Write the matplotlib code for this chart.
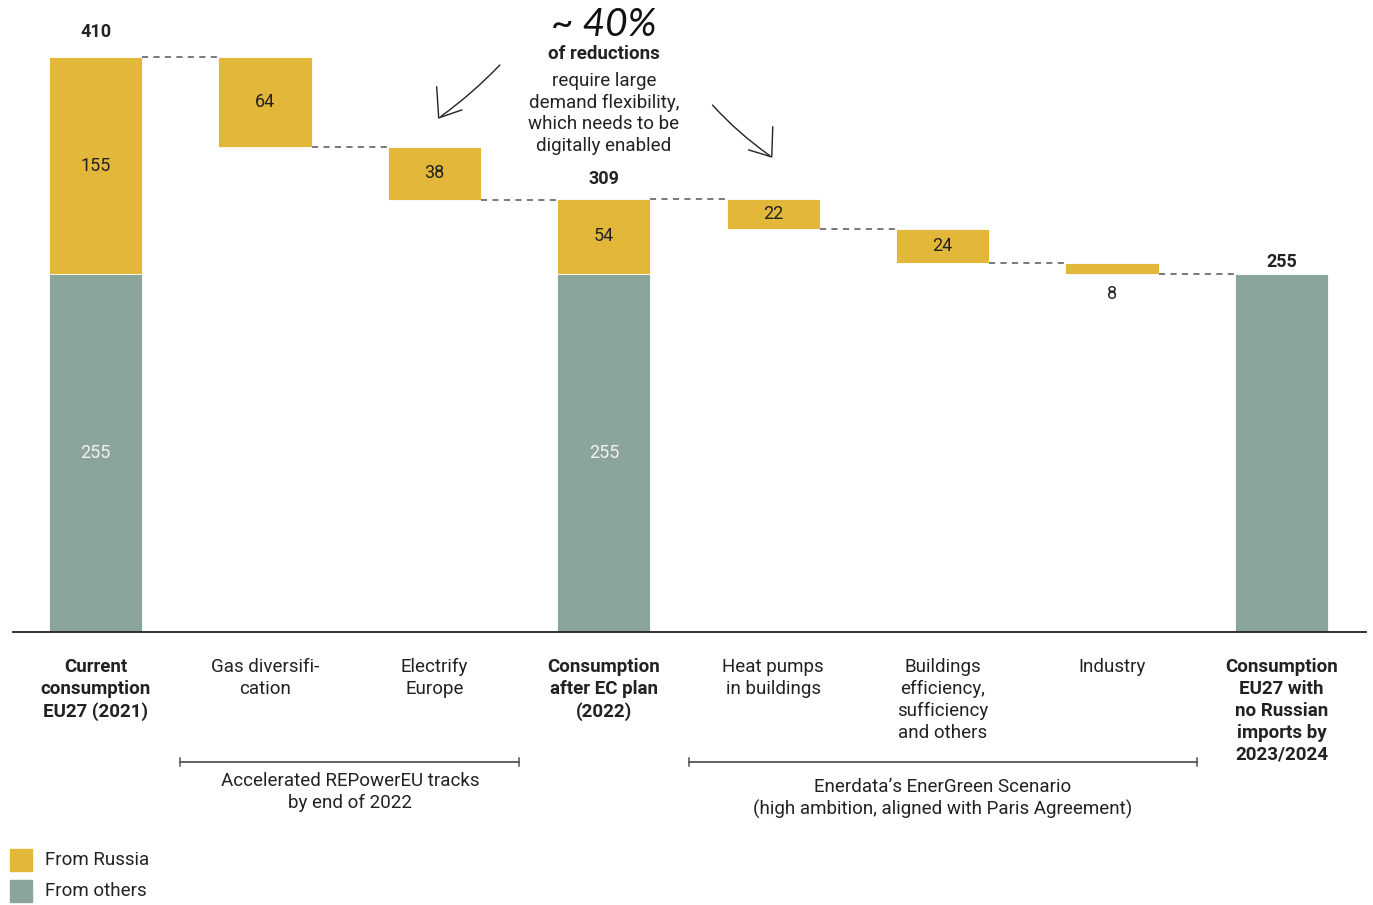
import matplotlib
matplotlib.use("Agg")
import matplotlib.pyplot as plt
from matplotlib.patches import Rectangle

plt.rcParams["font.family"] = ["Roboto", "DejaVu Sans"]

# ---- data -------------------------------------------------------------
categories = [
    "Current\nconsumption\nEU27 (2021)",
    "Gas diversifi-\ncation",
    "Electrify\nEurope",
    "Consumption\nafter EC plan\n(2022)",
    "Heat pumps\nin buildings",
    "Buildings\nefficiency,\nsufficiency\nand others",
    "Industry",
    "Consumption\nEU27 with\nno Russian\nimports by\n2023/2024",
]
is_total = [True, False, False, True, False, False, False, True]
from_others = [255, 0, 0, 255, 0, 0, 0, 255]
from_russia = [155, 64, 38, 54, 22, 24, 8, 0]
show_inner = [True, True, True, True, True, True, True, False]

groups = [
    ("Accelerated REPowerEU tracks\nby end of 2022", 1, 2),
    ("Enerdata\u2019s EnerGreen Scenario\n(high ambition, aligned with Paris Agreement)", 4, 6),
]

legend_labels = ["From Russia", "From others"]

# ---- style ------------------------------------------------------------
YELLOW = "#E3B83A"
GREY = "#8BA59A"
TEXT = "#222222"
LINE = "#555555"
BAR_W = 0.55
LS = 1.28
X0, X1 = -0.494, 7.505

fig = plt.figure(figsize=(13.73, 9.05), dpi=100)
ax = fig.add_axes([12 / 1373, (905 - 632) / 905, (1367 - 12) / 1373, 632 / 905])
ax.set_xlim(X0, X1)
ax.set_ylim(0, 450.6)
ax.axis("off")

# baseline
ax.plot([X0, X1], [0, 0], color="#222222", lw=1.3, clip_on=False,
        solid_capstyle="butt")

level = 0.0
tops, bottoms = [], []
for i, (tot, o, r) in enumerate(zip(is_total, from_others, from_russia)):
    if tot:
        ax.bar(i, o, BAR_W, bottom=0, color=GREY, edgecolor="white", lw=0.6)
        ax.bar(i, r, BAR_W, bottom=o, color=YELLOW, edgecolor="white", lw=0.6)
        level = o + r
        tops.append(level)
        bottoms.append(0)
    else:
        ax.bar(i, r, BAR_W, bottom=level - r, color=YELLOW, edgecolor="white", lw=0.6)
        tops.append(level)
        level -= r
        bottoms.append(level)

# dashed connectors between consecutive bars
for i in range(len(categories) - 1):
    y = bottoms[i] if not is_total[i] else tops[i]
    ax.plot([i + BAR_W / 2, i + 1 - BAR_W / 2], [y, y], color=LINE, lw=1.1,
            ls=(0, (4, 3.5)))

# value labels
total_pad = [16, 0, 0, 11, 0, 0, 0, 3]
for i, (tot, o, r) in enumerate(zip(is_total, from_others, from_russia)):
    if tot:
        if o and show_inner[i]:
            ax.text(i, o / 2, f"{o}", ha="center", va="center", fontsize=13,
                    color="#F2F2F2")
        if r:
            ax.text(i, o + r / 2, f"{r}", ha="center", va="center", fontsize=13,
                    color=TEXT)
        ax.annotate(f"{o + r}", (i, o + r), xytext=(0, total_pad[i]),
                    textcoords="offset pixels", ha="center", va="bottom",
                    fontsize=13, fontweight="bold", color=TEXT)
    else:
        mid = bottoms[i] + r / 2
        if r >= 15:
            ax.text(i, mid, f"{r}", ha="center", va="center", fontsize=13,
                    color=TEXT)
        else:
            ax.annotate(f"{r}", (i, bottoms[i]), xytext=(0, -11),
                        textcoords="offset pixels", ha="center", va="top",
                        fontsize=13, color=TEXT)

# category labels
for i, (lab, tot) in enumerate(zip(categories, is_total)):
    ax.text(i, -18.5, lab, ha="center", va="top", fontsize=13.5,
            fontweight="bold" if tot else "normal", color=TEXT,
            linespacing=LS, clip_on=False)

# group brackets
for (txt, a, b), ty in zip(groups, [-99.5, -104.0]):
    x0, x1 = a - 0.5, b + 0.5
    yb = -92.7
    ax.plot([x0, x1], [yb, yb], color=LINE, lw=1.3, clip_on=False)
    for xx in (x0, x1):
        ax.plot([xx, xx], [yb - 3, yb + 3], color=LINE, lw=1.1, clip_on=False)
    ax.text((x0 + x1) / 2, ty, txt, ha="center", va="top", fontsize=13.5,
            color=TEXT, linespacing=LS, clip_on=False)

# callout
ax.text(3, 433, "~ 40%", ha="center", va="center", fontsize=28,
        fontstyle="italic", fontweight="normal", color="#111111",
        family=["Lato", "DejaVu Sans"])
ax.text(3, 412, "of reductions", ha="center", va="center", fontsize=13.5,
        fontweight="bold", color=TEXT)
ax.text(3, 369.7, "require large\ndemand flexibility,\nwhich needs to be\ndigitally enabled",
        ha="center", va="center", fontsize=13.5, color=TEXT, linespacing=LS)

# hand-drawn style arrows
arrow_kw = dict(color="#222222", lw=1.0)
ax.annotate("", xy=(2.025, 366.5), xytext=(2.397, 405.7),
            arrowprops=dict(arrowstyle="-", connectionstyle="arc3,rad=-0.05", **arrow_kw))
ax.plot([2.013, 2.025, 2.161], [388.6, 366.5, 372.2], **arrow_kw)
ax.annotate("", xy=(3.991, 338.7), xytext=(3.630, 377.2),
            arrowprops=dict(arrowstyle="-", connectionstyle="arc3,rad=0.06", **arrow_kw))
ax.plot([3.997, 3.991, 3.855], [360.1, 338.7, 343.7], **arrow_kw)

# legend
for (lab, col), yc in zip(zip(legend_labels, [YELLOW, GREY]), [860, 891]):
    fig.add_artist(Rectangle((10 / 1373, (905 - yc - 11) / 905), 22 / 1373, 22 / 905,
                             transform=fig.transFigure, color=col))
    fig.text(45 / 1373, (905 - yc) / 905, lab, ha="left", va="center",
             fontsize=13.5, color=TEXT)

fig.savefig("out.png", dpi=100)
